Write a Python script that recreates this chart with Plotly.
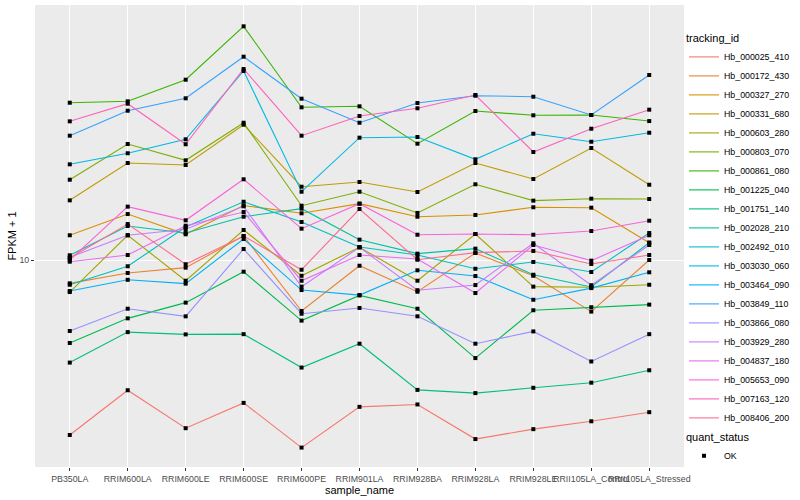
import plotly.graph_objects as go

samples = ["PB350LA", "RRIM600LA", "RRIM600LE", "RRIM600SE", "RRIM600PE", "RRIM901LA",
           "RRIM928BA", "RRIM928LA", "RRIM928LE", "RRII105LA_Control", "RRII105LA_Stressed"]

tracking_ids = ["Hb_000025_410", "Hb_000172_430", "Hb_000327_270", "Hb_000331_680", "Hb_000603_280",
                "Hb_000803_070", "Hb_000861_080", "Hb_001225_040", "Hb_001751_140", "Hb_002028_210",
                "Hb_002492_010", "Hb_003030_060", "Hb_003464_090", "Hb_003849_110", "Hb_003866_080",
                "Hb_003929_280", "Hb_004837_180", "Hb_005653_090", "Hb_007163_120", "Hb_008406_200"]

colors = ["#F8766D", "#EA8331", "#D89000", "#C09B00", "#A3A500", "#7CAE00", "#39B600", "#00BB4E",
          "#00BF7D", "#00C1A3", "#00BFC4", "#00BAE0", "#00B0F6", "#35A2FF", "#9590FF", "#C77CFF",
          "#E76BF3", "#FA62DB", "#FF62BC", "#FF6C91"]

# FPKM + 1 per sample (same order as samples)
hb_000025_410 = [2.61, 3.68, 2.75, 3.34, 2.37, 3.24, 3.30, 2.53, 2.73, 2.90, 3.11]
hb_000172_430 = [8.36, 9.05, 9.43, 12.02, 6.76, 9.57, 7.84, 10.55, 8.86, 6.73, 10.0]
hb_000327_270 = [12.09, 14.23, 12.18, 15.19, 14.31, 15.41, 13.94, 14.13, 14.99, 14.94, 11.42]
hb_000331_680 = [15.81, 21.05, 20.73, 28.25, 17.55, 18.20, 16.85, 21.05, 18.62, 23.62, 17.82]
hb_000603_280 = [7.82, 12.09, 8.53, 12.59, 8.86, 11.02, 8.53, 12.21, 8.15, 8.11, 8.27]
hb_000803_070 = [18.52, 24.36, 21.49, 28.68, 15.17, 16.89, 14.35, 17.88, 15.77, 16.01, 15.97]
hb_000861_080 = [33.44, 33.80, 39.90, 60.11, 32.28, 32.53, 24.42, 31.38, 30.36, 30.43, 29.05]
hb_001225_040 = [5.29, 6.39, 7.21, 9.14, 6.28, 7.62, 6.88, 4.71, 6.80, 6.96, 7.10]
hb_001751_140 = [4.55, 5.75, 5.65, 5.66, 4.38, 5.26, 3.69, 3.60, 3.75, 3.90, 4.29]
hb_002028_210 = [10.37, 12.98, 12.30, 13.94, 14.83, 11.69, 10.50, 10.91, 8.93, 8.13, 11.42]
hb_002492_010 = [8.27, 9.53, 12.88, 15.64, 13.39, 11.05, 10.39, 9.35, 9.85, 9.12, 12.30]
hb_003030_060 = [20.84, 22.69, 25.25, 42.66, 16.89, 25.57, 25.70, 21.66, 26.36, 24.79, 26.56]
hb_003464_090 = [7.88, 8.59, 8.34, 11.75, 7.94, 7.64, 9.24, 8.84, 7.37, 8.06, 9.10]
hb_003849_110 = [25.96, 31.45, 34.59, 47.61, 34.49, 28.68, 33.36, 35.29, 35.02, 30.43, 41.37]
hb_003866_080 = [5.80, 6.88, 6.49, 10.88, 6.62, 6.92, 6.49, 5.26, 5.78, 4.59, 5.66]
hb_003929_280 = [10.21, 12.09, 12.66, 15.10, 8.15, 11.02, 7.93, 8.25, 11.37, 8.24, 11.22]
hb_004837_180 = [9.87, 10.39, 13.01, 14.45, 8.53, 10.39, 10.08, 7.76, 11.22, 9.95, 12.09]
hb_005653_090 = [10.0, 15.06, 13.56, 18.58, 12.72, 15.41, 12.14, 12.21, 12.14, 12.49, 13.52]
hb_007163_120 = [28.99, 33.19, 24.31, 43.32, 25.96, 30.20, 32.04, 35.48, 22.91, 27.39, 31.70]
hb_008406_200 = [10.15, 13.18, 9.68, 12.02, 9.28, 14.79, 10.02, 10.58, 10.72, 9.70, 10.39]

series = [hb_000025_410, hb_000172_430, hb_000327_270, hb_000331_680, hb_000603_280,
          hb_000803_070, hb_000861_080, hb_001225_040, hb_001751_140, hb_002028_210,
          hb_002492_010, hb_003030_060, hb_003464_090, hb_003849_110, hb_003866_080,
          hb_003929_280, hb_004837_180, hb_005653_090, hb_007163_120, hb_008406_200]

FONT = "Liberation Sans, Arial, sans-serif"

fig = go.Figure()
for name, col, vals in zip(tracking_ids, colors, series):
    fig.add_trace(go.Scatter(x=samples, y=vals, mode="lines", name=name,
                             line=dict(color=col, width=1.1), legend="legend"))

all_x = [s for vals in series for s in samples]
all_y = [v for vals in series for v in vals]
fig.add_trace(go.Scatter(x=all_x, y=all_y, mode="markers", name="OK",
                         marker=dict(symbol="square", size=4, color="black"),
                         legend="legend2"))

fig.update_layout(
    width=800, height=500,
    margin=dict(l=35, r=116, t=5, b=33, autoexpand=False),
    paper_bgcolor="white", plot_bgcolor="#EBEBEB",
    font=dict(family=FONT, color="black"),
    xaxis=dict(type="category", categoryorder="array", categoryarray=samples,
               range=[-0.6, 10.6], showgrid=True, gridcolor="white", gridwidth=1.1,
               zeroline=False, showline=False, ticks="outside", ticklen=3,
               tickcolor="#333333", tickangle=0, tickfont=dict(size=8.8, color="#4D4D4D"),
               title=dict(text="sample_name", font=dict(size=11), standoff=2),
               automargin=False),
    yaxis=dict(type="log", range=[0.31, 1.85], tickvals=[10], ticktext=["10"],
               showgrid=True, gridcolor="white", gridwidth=1.1, zeroline=False,
               showline=False, ticks="outside", ticklen=3, tickcolor="#333333",
               tickfont=dict(size=8.8, color="#4D4D4D"),
               title=dict(text="FPKM + 1", font=dict(size=11), standoff=0),
               automargin=False),
    legend=dict(x=1.0, y=0.950, xanchor="left", yanchor="top",
                title=dict(text="tracking_id", font=dict(size=11)),
                font=dict(size=8.8), bgcolor="rgba(0,0,0,0)", tracegroupgap=0),
    legend2=dict(x=1.0, y=0.0866, xanchor="left", yanchor="top",
                 title=dict(text="quant_status", font=dict(size=11)),
                 font=dict(size=8.8), bgcolor="rgba(0,0,0,0)"),
    showlegend=True,
)

fig.write_html("out.html", config={"displayModeBar": False},
               post_script="document.body.style.margin='0';")
